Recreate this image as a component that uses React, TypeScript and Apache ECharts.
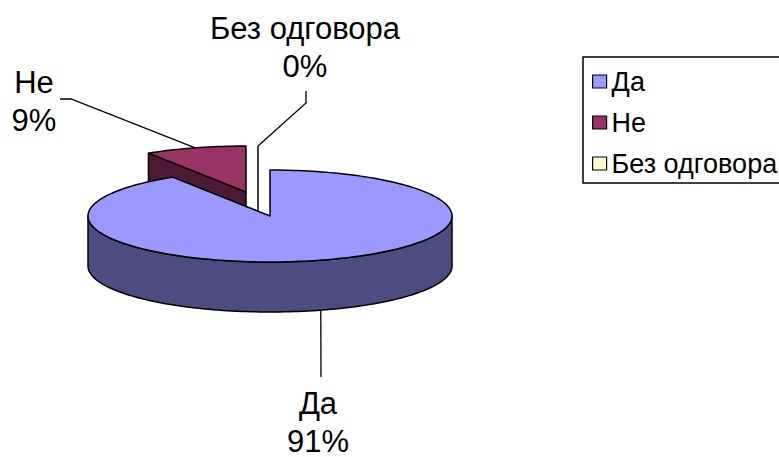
import React, { useEffect, useRef } from 'react';
import * as echarts from 'echarts';

// ---- data ----
const CATEGORIES = ['Да', 'Не', 'Без одговора'];
const VALUES = [91, 9, 0];

// ---- styles ----
const TOP_COLORS = ['#9999FF', '#993366', '#FFFFCC'];
const SIDE_COLORS = ['#4C4C80', '#4D1A33', '#808066'];
const FONT = '"Liberation Sans", Arial, sans-serif';

// ---- layout ----
const PIE = { cx: 270, cy: 216, rx: 182, ry: 46, h: 50 };
const EXPLODE: number[][] = [[0, 0], [-24, -24], [-12, -24]];
// label text (top-centre) and leader elbow points (from slice toward label)
const LABEL_LAYOUT = [
  { x: 318, y: 384, leader: [[321, 377]], anchorOnBottom: true },
  { x: 34, y: 63, leader: [[71, 99], [60, 99]], anchorOnBottom: false },
  { x: 305, y: 9, leader: [[306, 103], [306, 91]], anchorOnBottom: false },
];

const rad = (a: number) => (a * Math.PI) / 180;

export default function App() {
  const ref = useRef<HTMLDivElement>(null);
  useEffect(() => {
    if (!ref.current) return;
    const chart = echarts.init(ref.current, undefined, { renderer: 'svg' });
    const total = VALUES.reduce((a, b) => a + b, 0);
    const starts: number[] = [];
    let acc = 0;
    VALUES.forEach((v) => {
      starts.push((acc / total) * 360);
      acc += v;
    });

    const renderItem = (params: any, api: any) => {
      const i = params.dataIndex;
      const v = api.value(0);
      const a0 = starts[i];
      const a1 = a0 + (v / total) * 360;
      const [ox, oy] = EXPLODE[i];
      const pt = (a: number, dh = 0) => [
        PIE.cx + ox + PIE.rx * Math.sin(rad(a)),
        PIE.cy + oy - PIE.ry * Math.cos(rad(a)) + dh,
      ];
      const arc = (b0: number, b1: number, dh = 0) => {
        const n = Math.max(1, Math.ceil(Math.abs(b1 - b0) / 1.5));
        const out: number[][] = [];
        for (let k = 0; k <= n; k++) out.push(pt(b0 + ((b1 - b0) * k) / n, dh));
        return out;
      };
      const apex = [PIE.cx + ox, PIE.cy + oy];
      const apexB = [apex[0], apex[1] + PIE.h];
      const mid = (a0 + a1) / 2;
      const depth = -Math.cos(rad(mid)); // bigger = more in front
      const zBase = Math.round((depth + 2) * 10);
      const stroke = { stroke: '#000', lineWidth: 1.5, lineJoin: 'round' };
      const children: any[] = [];

      if (a1 - a0 < 0.01) {
        children.push({
          type: 'polyline', z2: zBase,
          shape: { points: [pt(a0), apexB] },
          style: { ...stroke, fill: null },
        });
      } else {
        if (Math.sin(rad(a0)) < -1e-6) {
          children.push({
            type: 'polygon', z2: zBase,
            shape: { points: [apex, pt(a0), pt(a0, PIE.h), apexB] },
            style: { fill: SIDE_COLORS[i], ...stroke },
          });
        }
        if (Math.sin(rad(a1)) > 1e-6) {
          children.push({
            type: 'polygon', z2: zBase,
            shape: { points: [apex, pt(a1), pt(a1, PIE.h), apexB] },
            style: { fill: SIDE_COLORS[i], ...stroke },
          });
        }
        const w0 = Math.max(a0, 90);
        const w1 = Math.min(a1, 270);
        if (w1 > w0) {
          const pts = arc(w0, w1).concat(arc(w0, w1, PIE.h).reverse());
          children.push({
            type: 'polygon', z2: zBase + 1,
            shape: { points: pts },
            style: { fill: SIDE_COLORS[i], ...stroke },
          });
        }
        children.push({
          type: 'polygon', z2: zBase + 2,
          shape: { points: [apex].concat(arc(a0, a1)) },
          style: { fill: TOP_COLORS[i], ...stroke },
        });
      }

      const lay = LABEL_LAYOUT[i];
      const anchor = lay.anchorOnBottom ? pt(mid, PIE.h) : pt(mid);
      children.push({
        type: 'polyline', z2: 200,
        shape: { points: [anchor].concat(lay.leader) },
        style: { stroke: '#000', lineWidth: 1.3, fill: null },
      });
      const pct = Math.round((v / total) * 100) + '%';
      children.push({
        type: 'text', z2: 200,
        style: {
          text: CATEGORIES[i] + '\n' + pct,
          x: lay.x, y: lay.y,
          align: 'center', verticalAlign: 'top',
          fill: '#000', fontSize: 31, fontFamily: FONT, lineHeight: 38,
        },
      });
      return { type: 'group', children };
    };

    chart.setOption({
      animation: false,
      backgroundColor: '#fff',
      legend: {
        orient: 'vertical',
        left: 583,
        top: 57,
        data: CATEGORIES,
        icon: 'rect',
        itemWidth: 14,
        itemHeight: 13,
        itemGap: 14,
        padding: [11, 16, 6, 9],
        borderColor: '#000',
        borderWidth: 1.5,
        selectedMode: false,
        itemStyle: { borderColor: '#000', borderWidth: 1.2 },
        textStyle: { fontSize: 27, fontFamily: FONT, color: '#000', lineHeight: 25 },
      },
      series: [
        {
          type: 'custom',
          coordinateSystem: 'none',
          renderItem,
          data: VALUES.map((v, i) => ({ value: v, name: CATEGORIES[i] })),
          silent: true,
        },
        {
          type: 'pie',
          radius: 0,
          center: [-100, -100],
          silent: true,
          label: { show: false },
          labelLine: { show: false },
          data: VALUES.map((v, i) => ({
            value: v,
            name: CATEGORIES[i],
            itemStyle: { color: TOP_COLORS[i] },
          })),
        },
      ],
    });
    return () => chart.dispose();
  }, []);
  return (
    <div
      ref={ref}
      style={{ position: 'absolute', left: 0, top: 0, width: 779, height: 457 }}
    />
  );
}
